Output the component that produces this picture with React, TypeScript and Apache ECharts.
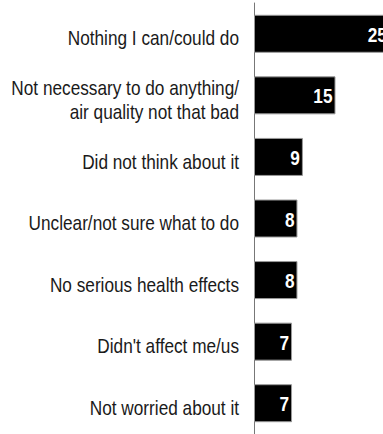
import React, { useEffect, useRef } from "react";
import * as echarts from "echarts";

const categories = [
  "Nothing I can/could do",
  "Not necessary to do anything/\nair quality not that bad",
  "Did not think about it",
  "Unclear/not sure what to do",
  "No serious health effects",
  "Didn't affect me/us",
  "Not worried about it",
];
const values = [25, 15, 9, 8, 8, 7, 7];

const FONT = '"Liberation Sans", Arial, sans-serif';
const NARROW = 0.82;

export default function App() {
  const ref = useRef<HTMLDivElement>(null);
  useEffect(() => {
    document.body.style.overflow = "hidden";
    const chart = echarts.init(ref.current!, null, { renderer: "svg" });
    chart.setOption({
      animation: false,
      grid: { left: 254, right: 3, top: 3, bottom: -3 },
      xAxis: { type: "value", min: 0, max: 30, show: false },
      yAxis: {
        type: "category",
        data: categories,
        inverse: true,
        axisLine: { show: true, lineStyle: { color: "#777", width: 1 } },
        axisTick: { show: false },
        axisLabel: { show: false },
      },
      series: [
        {
          type: "bar",
          data: values,
          barWidth: 38,
          itemStyle: { color: "#000", borderColor: "#999", borderWidth: 1 },
          label: { show: false },
        },
      ],
    });

    const x0 = chart.convertToPixel({ xAxisIndex: 0 }, 0) as number;
    const elements: any[] = [];
    categories.forEach((c, i) => {
      const y = chart.convertToPixel({ yAxisIndex: 0 }, i) as number;
      elements.push({
        type: "text",
        x: x0 - 15,
        y: y + 4.5,
        z: 100,
        scaleX: NARROW,
        silent: true,
        style: {
          text: c,
          fill: "#1a1a1a",
          font: `21px ${FONT}`,
          lineHeight: 24,
          textAlign: "right",
          textVerticalAlign: "middle",
        },
      });
      const xv = chart.convertToPixel({ xAxisIndex: 0 }, values[i]) as number;
      elements.push({
        type: "text",
        x: xv - 3,
        y: y + 1,
        z: 100,
        scaleX: NARROW,
        silent: true,
        style: {
          text: String(values[i]),
          fill: "#fff",
          font: `bold 21px ${FONT}`,
          textAlign: "right",
          textVerticalAlign: "middle",
        },
      });
    });
    chart.setOption({ graphic: { elements } });
    return () => chart.dispose();
  }, []);
  return (
    <div
      ref={ref}
      style={{ position: "absolute", left: 0, top: 0, width: 420, height: 434 }}
    />
  );
}
